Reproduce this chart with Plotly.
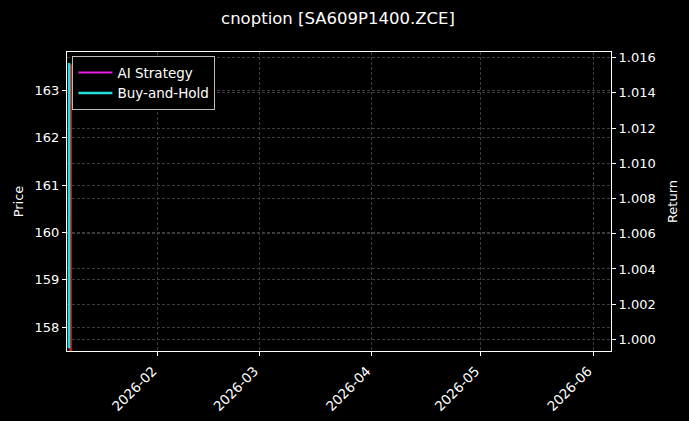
import plotly.graph_objects as go

# Data
price_time = ["2026-01-07 22:30", "2026-01-07 23:10"]
price_vals = [157.45, 163.55]

ai_time = ["2026-01-07 12:00", "2026-01-07 13:00"]
ai_vals = [1.0, 1.0]

bh_time = ["2026-01-07 12:00", "2026-01-07 13:00"]
bh_vals = [0.9995, 1.0157]

x_range = ["2026-01-06 23:00", "2026-06-05 23:00"]
x_ticks = ["2026-02-01", "2026-03-01", "2026-04-01", "2026-05-01", "2026-06-01"]
x_ticklabels = ["2026-02", "2026-03", "2026-04", "2026-05", "2026-06"]
price_range = [157.5, 163.81]
return_range = [0.99934, 1.01632]
title = "cnoption [SA609P1400.ZCE]"

font = "DejaVu Sans"
grid = "#3c3c3c"
gdash = "3px,2px"

fig = go.Figure()
fig.add_trace(go.Scatter(x=price_time, y=price_vals, mode="lines", name="Price",
                         line=dict(color="#d41a1a", width=2.5), showlegend=False, yaxis="y"))
fig.add_trace(go.Scatter(x=ai_time, y=ai_vals, mode="lines", name="AI Strategy",
                         line=dict(color="#e81ee8", width=2), yaxis="y2"))
fig.add_trace(go.Scatter(x=bh_time, y=bh_vals, mode="lines", name="Buy-and-Hold",
                         line=dict(color="#22dede", width=2.5), yaxis="y2"))

fig.update_layout(
    width=689, height=421,
    paper_bgcolor="black", plot_bgcolor="black",
    margin=dict(l=67, r=78, t=52, b=70, autoexpand=False),
    font=dict(family=font, size=13, color="white"),
    title=dict(text=title, x=0.4906, xanchor="center", y=0.957, yanchor="middle",
               font=dict(family=font, size=16.5, color="white")),
    xaxis=dict(type="date", range=x_range, tickvals=x_ticks, ticktext=x_ticklabels,
               tickangle=-45, showline=True, linecolor="white", linewidth=1, mirror=True,
               ticks="outside", ticklen=4, tickcolor="white", automargin=False,
               ticklabelshift=-5, ticklabelstandoff=2,
               showgrid=True, gridcolor=grid, griddash=gdash, gridwidth=0.5,
               zeroline=False, tickfont=dict(size=13.5)),
    yaxis=dict(range=price_range, dtick=1, tick0=158, showline=True, linecolor="white",
               linewidth=1, ticks="outside", ticklen=4, tickcolor="white", automargin=False,
               showgrid=True, gridcolor=grid, griddash=gdash, gridwidth=0.5,
               zeroline=False, title=dict(text="Price", standoff=8, font=dict(size=13))),
    yaxis2=dict(range=return_range, dtick=0.002, tick0=1.0, tickformat=".3f",
                overlaying="y", side="right", showline=True, linecolor="white", linewidth=1,
                ticks="outside", ticklen=4, tickcolor="white", automargin=False,
                showgrid=True, gridcolor=grid, griddash=gdash, gridwidth=0.5,
                zeroline=False, title=dict(text="Return", standoff=13, font=dict(size=13))),
    legend=dict(x=0.01, y=0.986, xanchor="left", yanchor="top",
                bgcolor="black", bordercolor="#bbbbbb", borderwidth=1,
                font=dict(family=font, size=13.5, color="white"),
                itemwidth=34, tracegroupgap=0),
)

fig.write_html("out.html", config={"displayModeBar": False},
               post_script="document.body.style.margin='0';document.body.style.padding='0';"
                           "document.body.style.background='black';")
